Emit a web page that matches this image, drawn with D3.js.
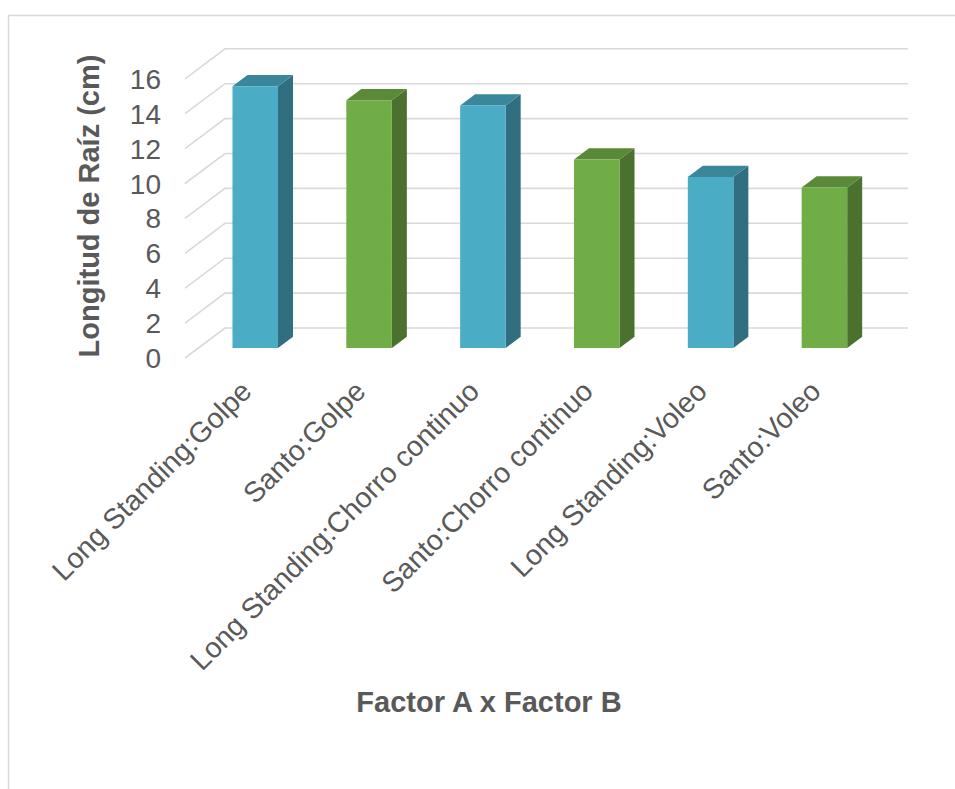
<!DOCTYPE html>
<html>
<head>
<meta charset="utf-8">
<script src="https://cdn.jsdelivr.net/npm/d3@7"></script>
<style>
  html, body { margin: 0; padding: 0; background: #fff; }
  svg { display: block; }
  text { font-family: "Liberation Sans", Arial, sans-serif; fill: #595959; }
</style>
</head>
<body>
<svg id="chart" width="955" height="789"></svg>
<script>
// ---- Data ----
const categories = [
  "Long Standing:Golpe",
  "Santo:Golpe",
  "Long Standing:Chorro continuo",
  "Santo:Chorro continuo",
  "Long Standing:Voleo",
  "Santo:Voleo"
];
const values = [15.0, 14.2, 13.9, 10.8, 9.8, 9.2];
const factorA = ["Long Standing", "Santo", "Long Standing", "Santo", "Long Standing", "Santo"];
const yTicks = [0, 2, 4, 6, 8, 10, 12, 14, 16];
const yTitle = "Longitud de Raíz (cm)";
const xTitle = "Factor A x Factor B";

// ---- Styles ----
const palette = {
  "Long Standing": { front: "#4BACC6", side: "#316F80", top: "#3A879C" },
  "Santo":         { front: "#70AD47", side: "#4A712D", top: "#5A8A38" }
};
const gridColor = "#D9D9D9";

// ---- Layout ----
const svg = d3.select("#chart");
const W = 955, H = 789;
const depth = { dx: 40, dy: -30 };       // full wall depth (oblique projection)
const barDepthStart = 1 / 3;             // bar front position within the depth
const barDepthFrac = 0.375;              // bar thickness as fraction of depth
const frontLeft = 185, frontRight = 868;

const y = d3.scaleLinear().domain([0, 16]).range([358, 358 - 16 * 17.45]);
const x = d3.scaleBand().domain(categories).range([frontLeft, frontRight])
  .paddingInner(0.6).paddingOuter(0.3);

// Chart border
svg.append("rect")
  .attr("x", 8.5).attr("y", 15.5)
  .attr("width", W + 20).attr("height", H + 20)
  .attr("fill", "none").attr("stroke", gridColor).attr("stroke-width", 1.5);

// Gridlines (side wall diagonal + back wall horizontal)
const grid = svg.append("g");
yTicks.forEach(t => {
  const yf = y(t);
  grid.append("path")
    .attr("d", `M${frontLeft},${yf} L${frontLeft + depth.dx},${yf + depth.dy} L${frontRight + depth.dx},${yf + depth.dy}`)
    .attr("fill", "none").attr("stroke", gridColor).attr("stroke-width", 1.6);
});

// Y tick labels
svg.append("g").selectAll("text").data(yTicks).join("text")
  .attr("x", 161).attr("y", d => y(d)).attr("dy", "0.36em")
  .attr("text-anchor", "end")
  .style("font-size", "28px")
  .text(d => d);

// Bars (3D)
const ox = depth.dx * barDepthStart, oy = depth.dy * barDepthStart;
const bdx = depth.dx * barDepthFrac, bdy = depth.dy * barDepthFrac;
const bars = svg.append("g");
categories.forEach((c, i) => {
  const col = palette[factorA[i]];
  const x0 = x(c) + ox, w = x.bandwidth();
  const yb = y(0) + oy, yt = y(values[i]) + oy;
  const g = bars.append("g");
  // side face
  g.append("path")
    .attr("d", `M${x0 + w},${yt} L${x0 + w + bdx},${yt + bdy} L${x0 + w + bdx},${yb + bdy} L${x0 + w},${yb} Z`)
    .attr("fill", col.side);
  // top face
  g.append("path")
    .attr("d", `M${x0},${yt} L${x0 + bdx},${yt + bdy} L${x0 + w + bdx},${yt + bdy} L${x0 + w},${yt} Z`)
    .attr("fill", col.top);
  // front face
  g.append("rect")
    .attr("x", x0).attr("y", yt).attr("width", w).attr("height", yb - yt)
    .attr("fill", col.front);
});

// X category labels (rotated -45°)
svg.append("g").selectAll("text").data(categories).join("text")
  .attr("transform", d => `translate(${x(d) + x.bandwidth() / 2 + ox - 9},${386}) rotate(-45)`)
  .attr("text-anchor", "end")
  .attr("dy", "0.35em")
  .style("font-size", "28.5px")
  .text(d => d);

// Axis titles
svg.append("text")
  .attr("x", 489).attr("y", 712)
  .attr("text-anchor", "middle")
  .style("font-size", "29px").style("font-weight", "bold")
  .text(xTitle);

svg.append("text")
  .attr("transform", `translate(99,206) rotate(-90)`)
  .attr("text-anchor", "middle")
  .style("font-size", "29px").style("font-weight", "bold")
  .text(yTitle);
</script>
</body>
</html>
